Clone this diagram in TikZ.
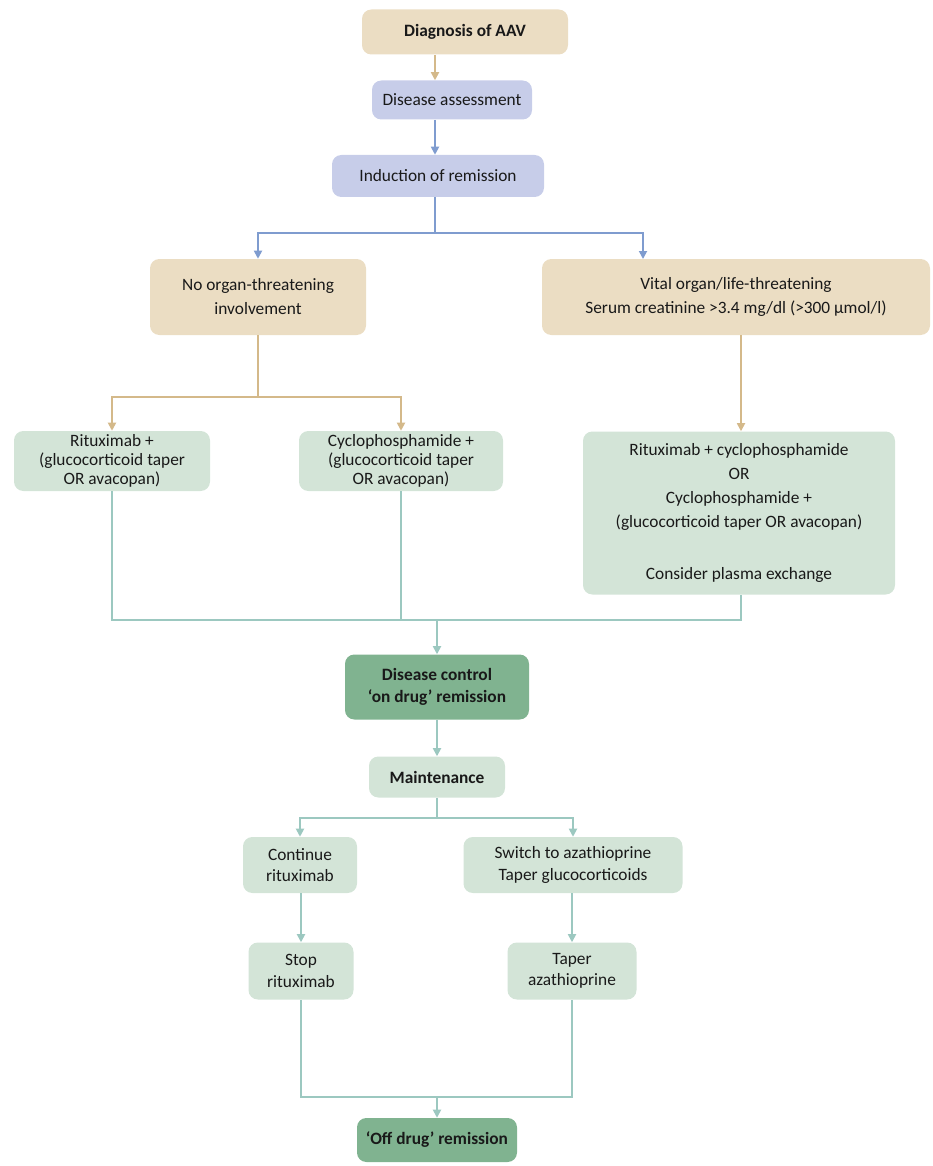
\documentclass[tikz,border=0pt]{standalone}
\usepackage{fontspec}
\setmainfont{Carlito}
\usetikzlibrary{arrows.meta}
\definecolor{beigeF}{HTML}{EBDDC3}
\definecolor{beigeL}{HTML}{D4B98A}
\definecolor{lavF}{HTML}{C7CDE9}
\definecolor{blueL}{HTML}{7F9CCF}
\definecolor{greenF}{HTML}{D3E4D7}
\definecolor{tealL}{HTML}{9CC8C0}
\definecolor{darkF}{HTML}{80B390}
\begin{document}
\begin{tikzpicture}[x=0.75pt,y=-0.75pt,
  box/.style={rounded corners=7pt,align=center,inner sep=0pt,font=\fontsize{13}{14.3}\selectfont,text=black!90},
  beige/.style={box,fill=beigeF},
  lav/.style={box,fill=lavF},
  grn/.style={box,fill=greenF},
  bf/.style={font=\fontsize{13}{14.3}\selectfont\bfseries},
  dark/.style={box,fill=darkF,bf},
  bl/.style={line width=1.3pt,draw=beigeL},
  ul/.style={line width=1.3pt,draw=blueL},
  tl/.style={line width=1.3pt,draw=tealL},
  arr/.style={-{Triangle[length=6pt,width=6pt]}}]
\useasboundingbox (0,0) rectangle (932,1166);
\node[beige,bf,minimum width=206*0.75pt,minimum height=45*0.75pt] (diag) at (465,32) {Diagnosis of AAV};
\node[lav,minimum width=160*0.75pt,minimum height=39*0.75pt] (assess) at (452,100) {Disease assessment};
\node[lav,minimum width=212*0.75pt,minimum height=42*0.75pt] (ind) at (438,176) {Induction of remission};
\node[beige,minimum width=216*0.75pt,minimum height=76*0.75pt,font=\fontsize{13}{18}\selectfont] (noorg) at (258,297) {No organ-threatening\\involvement};
\node[beige,minimum width=388*0.75pt,minimum height=76*0.75pt,font=\fontsize{13}{18}\selectfont] (vital) at (736,297) {Vital organ/life-threatening\\Serum creatinine >3.4 mg/dl (>300 µmol/l)};
\node[grn,minimum width=196*0.75pt,minimum height=60*0.75pt] (rit) at (112,461) {Rituximab +\\(glucocorticoid taper\\OR avacopan)};
\node[grn,minimum width=204*0.75pt,minimum height=60*0.75pt] (cyc) at (401,461) {Cyclophosphamide +\\(glucocorticoid taper\\OR avacopan)};
\node[grn,minimum width=312*0.75pt,minimum height=163*0.75pt,font=\fontsize{13}{18}\selectfont] (big) at (739,513) {Rituximab + cyclophosphamide\\OR\\Cyclophosphamide +\\(glucocorticoid taper OR avacopan)\\[21pt]Consider plasma exchange};
\node[dark,minimum width=184*0.75pt,minimum height=65*0.75pt,font=\fontsize{13}{16}\selectfont\bfseries] (ctrl) at (437,687) {Disease control\\‘on drug’ remission};
\node[grn,bf,minimum width=136*0.75pt,minimum height=41*0.75pt] (maint) at (437,777) {Maintenance};
\node[grn,minimum width=114*0.75pt,minimum height=56*0.75pt,font=\fontsize{13}{16}\selectfont] (cont) at (300,865) {Continue\\rituximab};
\node[grn,minimum width=219*0.75pt,minimum height=56*0.75pt,font=\fontsize{13}{16}\selectfont] (sw) at (573,865) {Switch to azathioprine\\Taper glucocorticoids};
\node[grn,minimum width=105*0.75pt,minimum height=57*0.75pt,font=\fontsize{13}{16}\selectfont] (stop) at (301,971) {Stop\\rituximab};
\node[grn,minimum width=129*0.75pt,minimum height=57*0.75pt,font=\fontsize{13}{16}\selectfont] (taper) at (572,971) {Taper\\azathioprine};
\node[dark,minimum width=160*0.75pt,minimum height=44*0.75pt] (off) at (437,1140) {‘Off drug’ remission};
% connectors
\draw[bl,arr] (diag.south -| 435,0) -- (assess.north -| 435,0);
\draw[ul,arr] (assess.south -| 435,0) -- (ind.north -| 435,0);
\coordinate (j1) at (435,233);
\draw[ul] (ind.south -| j1) -- (j1);
\draw[ul,arr] (j1) -| (noorg.north);
\draw[ul,arr] (j1) -| (643,259);
\coordinate (j2) at (258,397);
\draw[bl] (noorg.south) -- (j2);
\draw[bl,arr] (j2) -| (rit.north);
\draw[bl,arr] (j2) -| (cyc.north);
\draw[bl,arr] (vital.south -| 741,0) -- (big.north -| 741,0);
\coordinate (j3) at (437,620);
\draw[tl] (rit.south) |- (j3);
\draw[tl] (cyc.south) |- (j3);
\draw[tl] (big.south -| 741,0) |- (j3);
\draw[tl,arr] (j3) -- (ctrl.north);
\draw[tl,arr] (ctrl.south) -- (maint.north);
\coordinate (j4) at (437,818);
\draw[tl] (maint.south) -- (j4);
\draw[tl,arr] (j4) -| (cont.north);
\draw[tl,arr] (j4) -| (sw.north);
\draw[tl,arr] (cont.south -| stop.north) -- (stop.north);
\draw[tl,arr] (sw.south -| taper.north) -- (taper.north);
\coordinate (j5) at (437,1097);
\draw[tl] (stop.south) |- (j5);
\draw[tl] (taper.south) |- (j5);
\draw[tl,arr] (j5) -- (off.north);
\end{tikzpicture}
\end{document}
